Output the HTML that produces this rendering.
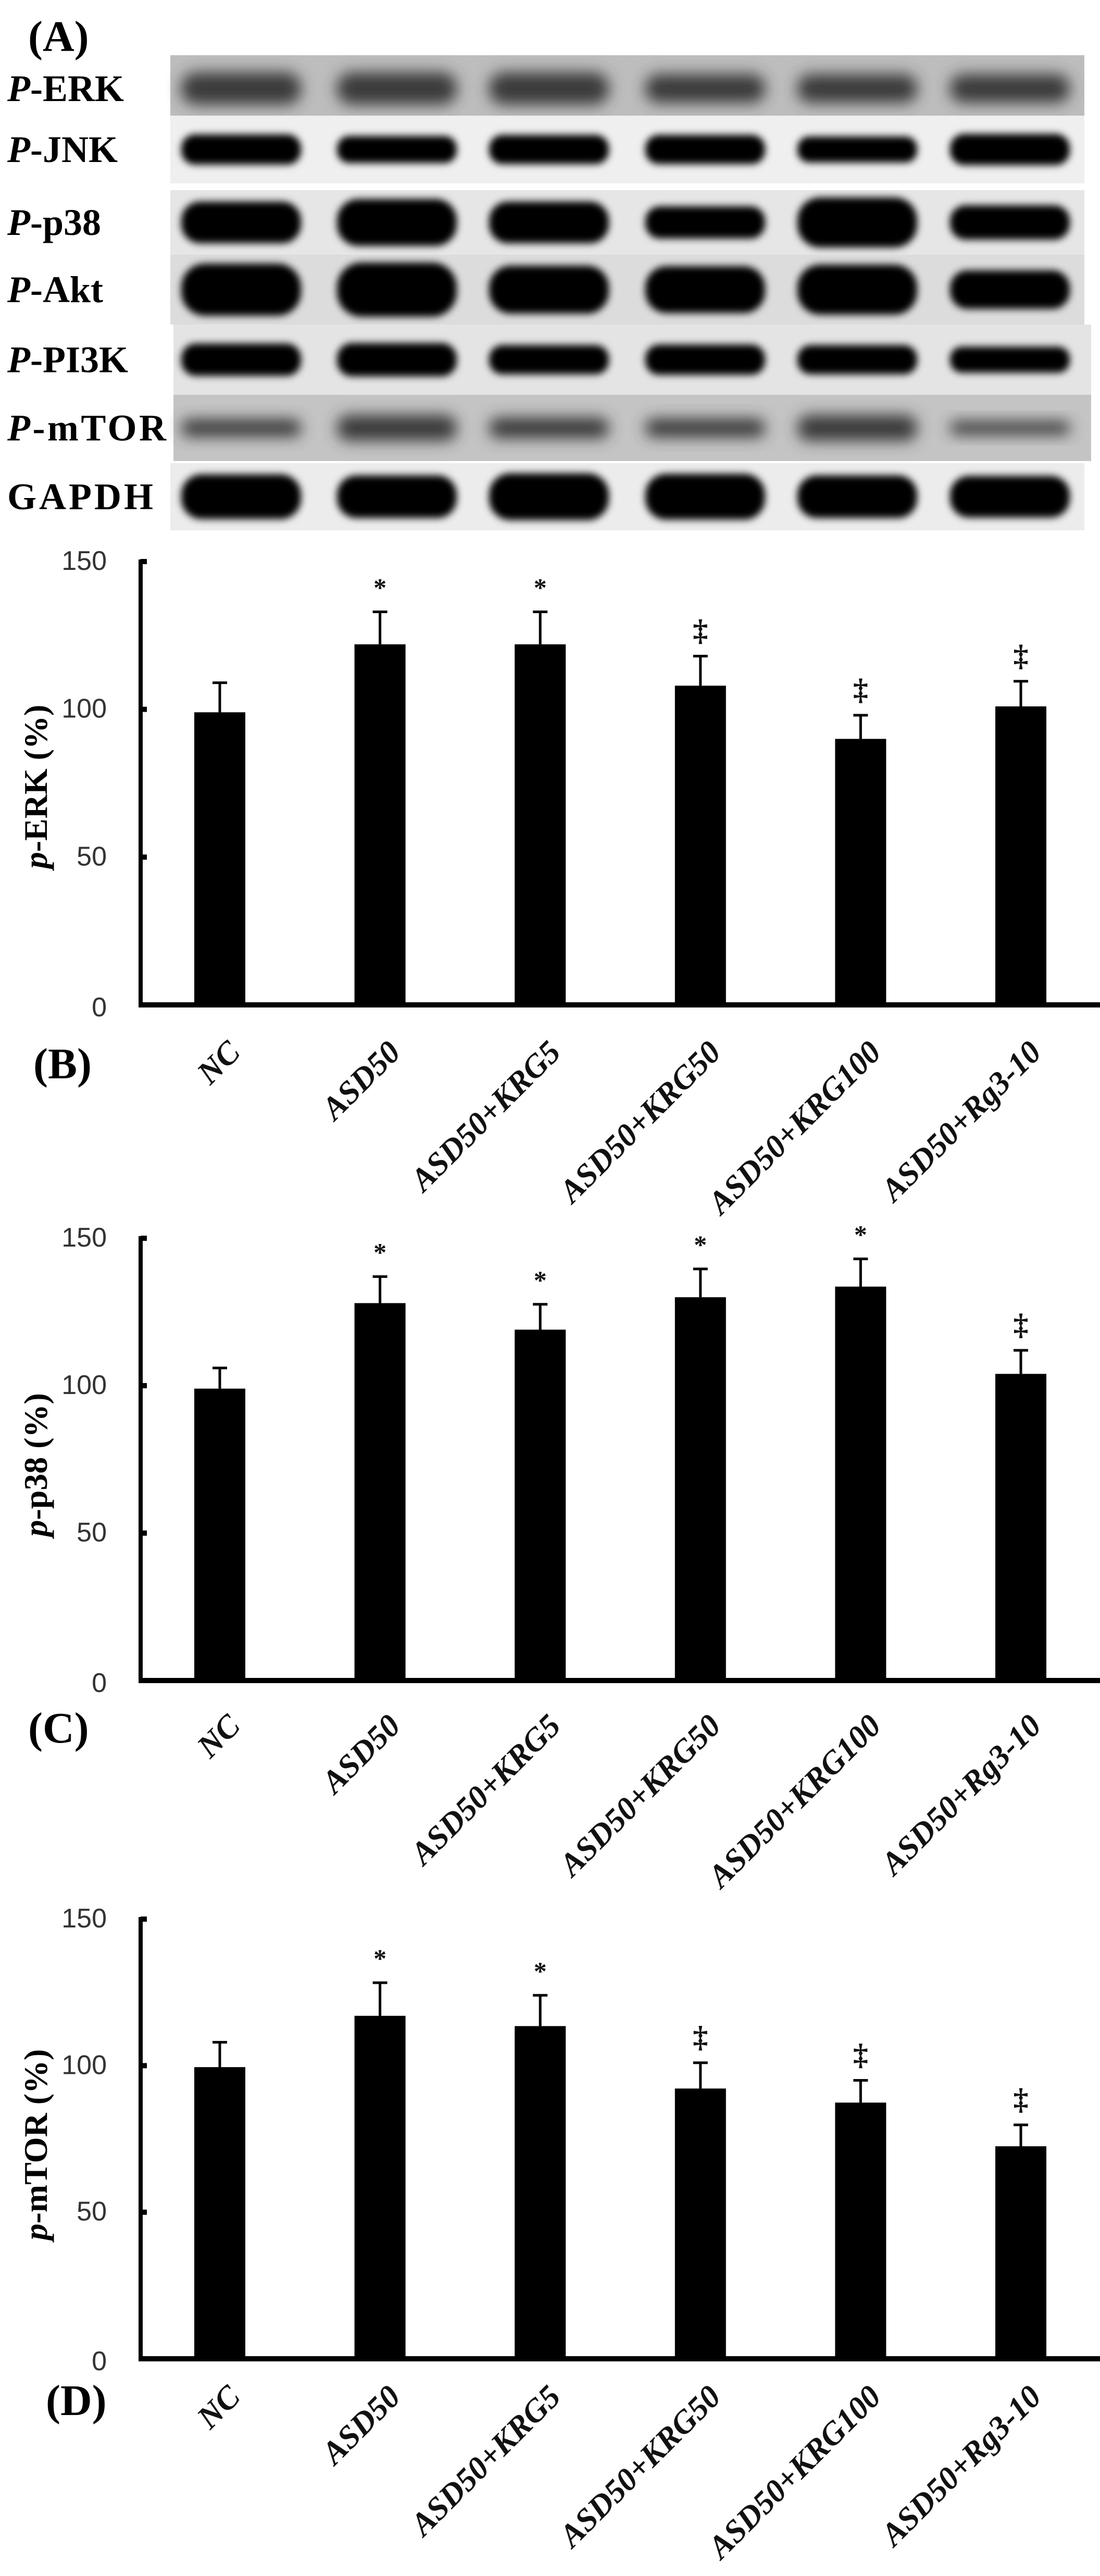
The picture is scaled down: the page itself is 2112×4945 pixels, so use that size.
<!DOCTYPE html>
<html><head><meta charset="utf-8"><title>Western blot and bar charts</title>
<style>
html,body{margin:0;padding:0;background:#fff;}
svg{display:block;}
.tick{font-family:"Liberation Sans",sans-serif;font-size:52px;fill:#333;}
.cat{font-family:"Liberation Serif",serif;font-size:62px;font-weight:bold;font-style:italic;fill:#111;}
.ytitle{font-family:"Liberation Serif",serif;font-size:64px;font-weight:bold;fill:#000;}
.panel{font-family:"Liberation Serif",serif;font-size:84px;font-weight:bold;fill:#000;}
.blab{font-family:"Liberation Serif",serif;font-size:72px;font-weight:bold;fill:#000;}
.mark{font-family:"Liberation Serif",serif;fill:#111;font-weight:bold;}
</style></head>
<body>
<svg id="fig" xmlns="http://www.w3.org/2000/svg" width="2112" height="4945" viewBox="0 0 2112 4945">
<defs>
<filter id="blur6" x="-20%" y="-50%" width="140%" height="200%"><feGaussianBlur stdDeviation="7"/></filter>
<filter id="blur12" x="-20%" y="-80%" width="140%" height="260%"><feGaussianBlur stdDeviation="14"/></filter>
</defs>
<text class="panel" x="54" y="98">(A)</text>
<g id="blots"></g>
<g id="charts"></g>
</svg>
<script>
// ---- blot data ----
const blotNames = ["ERK","JNK","p38","Akt","PI3K","mTOR","GAPDH"];
const blotTop = [106,222,365,489,623,758,889];
const blotBottom = [222,352,489,623,758,885,1018];
const blotBg = ["#bdbdbd","#efefef","#e6e6e6","#dcdcdc","#e4e4e4","#c4c4c4","#ececec"];
const blotBand = ["#3a3a3a","#000","#000","#000","#000","#3a3a3a","#000"];
const bandHeight = [[62,62,62,55,55,55],[58,52,56,56,50,60],[80,90,80,62,96,66],[100,104,92,90,96,74],[62,64,56,58,56,50],[34,50,40,36,50,26],[86,82,90,88,82,80]];
const lanes = [463,762,1054,1354,1646,1939];

const svgNS = "http://www.w3.org/2000/svg";
const blots = document.getElementById('blots');
function mk(tag, attrs, parent){const e=document.createElementNS(svgNS,tag);for(const k in attrs)e.setAttribute(k,attrs[k]);parent.appendChild(e);return e;}

blotNames.forEach((nm,i)=>{
  const g=mk('g',{},blots);
  
  
  const x0 = (i==4||i==5)?333:327, x1=(i==4||i==5)?2095:2082;
  mk('rect',{x:x0,y:blotTop[i],width:x1-x0,height:blotBottom[i]-blotTop[i],fill:blotBg[i]},g);
  const cy=(blotTop[i]+blotBottom[i])/2 + (i==0?6:0);
  lanes.forEach((lx,j)=>{
    const h=bandHeight[i][j];
    const band=mk('rect',{x:lx-115,y:cy-h/2,width:230,height:h,rx:h/2.2,fill:blotBand[i],filter:(i==0||i==5)?'url(#blur12)':'url(#blur6)'},g);
    
    
  });
  const lab=mk('text',{class:'blab',x:14,y:cy+24,textLength:(nm==="GAPDH"?280:(nm==="mTOR"?305:null))},g);
  if(lab.getAttribute('textLength')==="null") lab.removeAttribute('textLength');
  
  
  if(nm==="GAPDH"){lab.textContent="GAPDH";}
  else{const t1=mk('tspan',{'font-style':'italic'},lab);t1.textContent="P";const t2=mk('tspan',{},lab);t2.textContent="-"+nm;}
});

// ---- chart data ----
const categories = ["NC","ASD50","ASD50+KRG5","ASD50+KRG50","ASD50+KRG100","ASD50+Rg3-10"];
const yTicks = [0,50,100,150];
const erkValues = [99,122,122,108,90,101];
const erkErrors = [10,11,11,10,8,8.5];
const erkMarks = ["","*","*","‡","‡","‡"];
const p38Values = [99,128,119,130,133.6,104];
const p38Errors = [7,9,8.6,9.6,9.4,8];
const p38Marks = ["","*","*","*","*","‡"];
const mtorValues = [99.5,117,113.5,92.2,87.4,72.5];
const mtorErrors = [8.5,11.3,10.5,8.8,7.6,7.3];
const mtorMarks = ["","*","*","‡","‡","‡"];

const charts = [
 {id:'erk', title:'ERK', panel:'(B)', top:1078, zero:1929, vals:erkValues, errs:erkErrors, marks:erkMarks, panelX:64, panelY:2070, labGap:64, titleY:1510},
 {id:'p38', title:'p38', panel:'(C)', top:2377, zero:3226, vals:p38Values, errs:p38Errors, marks:p38Marks, panelX:54, panelY:3345, labGap:60, titleY:2812},
 {id:'mtor', title:'mTOR', panel:'(D)', top:3684, zero:4528, vals:mtorValues, errs:mtorErrors, marks:mtorMarks, panelX:88, panelY:4636, labGap:46, titleY:4117}
];
const root=document.getElementById('charts');
const axisX=270, firstCenter=422, pitch=307.6, barW=98, yMax=150;

charts.forEach(c=>{
  const g=mk('g',{},root);
  
  
  const yScale=v=>c.zero-(v/yMax)*(c.zero-c.top);
  const xScale=i=>firstCenter+i*pitch;
  c.vals.forEach((v,i)=>{
    const x=xScale(i), y=yScale(v);
    const b=mk('rect',{x:x-barW/2,y:y,width:barW,height:c.zero-y,fill:'#000'},g);
    
    
    const ye=yScale(v+c.errs[i]);
    const e=mk('path',{d:`M${x} ${y} V${ye} M${x-14} ${ye} H${x+14}`,stroke:'#000','stroke-width':5,fill:'none'},g);
    
    
    if(c.marks[i]){
      const m=mk('text',{class:'mark',x:x,y:ye-30,'text-anchor':'middle','font-size':c.marks[i]=='*'?50:58},g);
      m.textContent=c.marks[i];
      
      
    }
    const lx=x+12, ly=c.zero+c.labGap;
    const t=mk('text',{class:'cat',x:lx,y:ly,'text-anchor':'end',transform:`rotate(-45 ${lx} ${ly})`,'dominant-baseline':'hanging'},g);
    t.textContent=categories[i];
    
    
  });
  const ya=mk('line',{x1:axisX,y1:c.top-4,x2:axisX,y2:c.zero+5,stroke:'#000','stroke-width':8},g);
  
  
  const xa=mk('line',{x1:axisX-4,y1:c.zero,x2:2112,y2:c.zero,stroke:'#000','stroke-width':10},g);
  
  
  yTicks.forEach(tv=>{
    const ty=yScale(tv);
    mk('rect',{x:axisX,y:ty-5,width:12,height:10,fill:'#000'},g);
    const tl=mk('text',{class:'tick',x:205,y:ty+(tv==0?22:16),'text-anchor':'end'},g);
    tl.textContent=tv;
    
    
  });
  const tt=mk('text',{class:'ytitle',x:90,y:c.titleY,'text-anchor':'middle',transform:`rotate(-90 90 ${c.titleY})`},g);
  const s1=mk('tspan',{'font-style':'italic'},tt);s1.textContent='p';
  const s2=mk('tspan',{},tt);s2.textContent='-'+c.title+' (%)';
  
  
  const pl=mk('text',{class:'panel',x:c.panelX,y:c.panelY},g);
  pl.textContent=c.panel;
  
  
});
</script>
</body></html>
